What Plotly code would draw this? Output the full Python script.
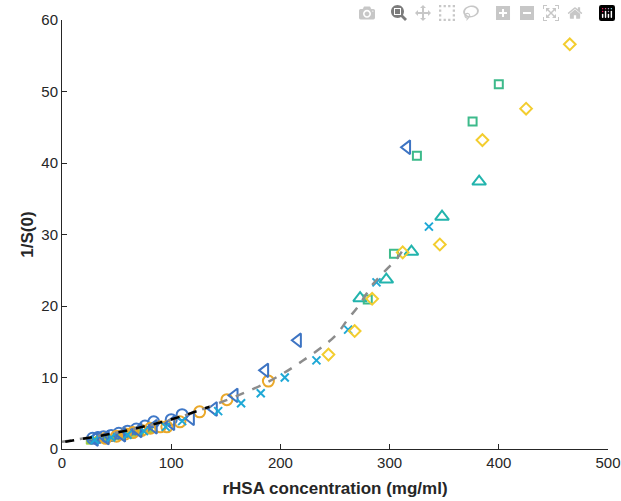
import plotly.graph_objects as go

# ---- data ----
blue_tri_x = [30, 40, 55, 70, 84, 100, 118, 139, 158, 186, 216, 316]
blue_tri_y = [1.4, 1.6, 2.0, 2.6, 3.1, 3.6, 4.3, 5.6, 7.5, 11.0, 15.2, 42.2]

blue_circ_x = [28, 33, 38, 45, 52, 60, 68, 76, 84, 100, 110]
blue_circ_y = [1.5, 1.6, 1.7, 1.9, 2.2, 2.5, 2.8, 3.2, 3.8, 4.1, 4.8]

orange_circ_x = [40, 50, 58, 65, 73, 81, 90, 96, 108, 126, 151, 189]
orange_circ_y = [1.5, 1.8, 2.1, 2.3, 2.6, 2.9, 3.1, 3.1, 3.8, 5.2, 6.9, 9.5]

lime_x = [25, 29, 33, 37, 41, 45, 50, 55, 60, 66, 72, 80]
lime_y = [1.1, 1.2, 1.3, 1.3, 1.4, 1.5, 1.7, 1.8, 2.0, 2.2, 2.3, 2.6]

cyan_x_x = [30, 45, 60, 75, 95, 110, 143, 164, 182, 204, 233, 262, 288, 336]
cyan_x_y = [1.3, 1.6, 2.0, 2.5, 3.1, 3.9, 5.3, 6.4, 7.8, 10.0, 12.4, 16.7, 23.3, 31.1]

teal_tri_x = [273, 297, 320, 348, 382]
teal_tri_y = [21.1, 23.7, 27.6, 32.5, 37.4]

green_sq_x = [280, 304, 325, 376, 400]
green_sq_y = [20.9, 27.3, 41.0, 45.8, 51.0]

yellow_dia_x = [244, 268, 284, 312, 346, 385, 425, 465]
yellow_dia_y = [13.2, 16.5, 21.0, 27.5, 28.6, 43.2, 47.6, 56.6]

gray_fit_x = [0, 50, 100, 150, 190, 220, 250, 262, 271, 285, 294, 307, 312]
gray_fit_y = [1.0, 2.3, 4.1, 6.8, 9.5, 12.3, 15.8, 18.2, 19.9, 23.1, 24.6, 26.7, 27.8]

black_fit_x = [3, 30, 60, 90, 110, 135]
black_fit_y = [1.0, 1.7, 2.6, 3.7, 4.6, 5.9]

x_ticks = [0, 100, 200, 300, 400, 500]
y_ticks = [0, 10, 20, 30, 40, 50, 60]

fig = go.Figure()

def scat(x, y, symbol, color, size, lw=2):
    fig.add_trace(go.Scatter(x=x, y=y, mode="markers",
                             marker=dict(symbol=symbol, size=size, color=color,
                                         line=dict(color=color, width=lw)),
                             showlegend=False, hoverinfo="skip"))

scat(lime_x, lime_y, "square", "#9acb3c", 6, 1)
scat(blue_circ_x, blue_circ_y, "circle-open", "#3f78c8", 11)
scat(orange_circ_x, orange_circ_y, "circle-open", "#eaa82a", 11)
scat(blue_tri_x, blue_tri_y, "triangle-left-open", "#3d74c3", 12)
scat(cyan_x_x, cyan_x_y, "x-thin-open", "#1ea8d6", 8)
scat(teal_tri_x, teal_tri_y, "triangle-up-open", "#22b4ad", 12)
scat(green_sq_x, green_sq_y, "square-open", "#3dba8b", 8)
scat(yellow_dia_x, yellow_dia_y, "diamond-open", "#f3cd2f", 9)

fig.add_trace(go.Scatter(x=gray_fit_x, y=gray_fit_y, mode="lines",
                         line=dict(color="#8c8c8c", width=2.5, dash="dash", shape="spline"),
                         showlegend=False, hoverinfo="skip"))
fig.add_trace(go.Scatter(x=black_fit_x, y=black_fit_y, mode="lines",
                         line=dict(color="#000000", width=2.5, dash="dash"),
                         showlegend=False, hoverinfo="skip"))

FONT = "Liberation Sans, Arial, sans-serif"
axis_font = dict(family=FONT, size=15, color="#262626")
fig.update_layout(
    width=621, height=501,
    margin=dict(l=62, r=13, t=20, b=52),
    paper_bgcolor="white", plot_bgcolor="white",
    xaxis=dict(range=[0, 500], tickvals=x_ticks, ticks="inside", ticklen=5,
               tickcolor="#262626", showline=True, linecolor="#262626", linewidth=1,
               showgrid=False, zeroline=False, tickfont=axis_font, automargin=False,
               ticklabeloverflow="allow",
               title=dict(text="<b>rHSA concentration (mg/ml)</b>", standoff=12,
                          font=dict(family=FONT, size=17, color="#262626"))),
    yaxis=dict(range=[0, 60], tickvals=y_ticks, ticks="inside", ticklen=5,
               tickcolor="#262626", showline=True, linecolor="#262626", linewidth=1,
               showgrid=False, zeroline=False, tickfont=axis_font, automargin=False,
               ticklabeloverflow="allow",
               title=dict(text="<b>1/S(0)</b>", standoff=3,
                          font=dict(family=FONT, size=17, color="#262626"))),
)

fig.write_html("out.html",
               post_script="document.body.style.margin='0';document.body.style.overflow='hidden';")
